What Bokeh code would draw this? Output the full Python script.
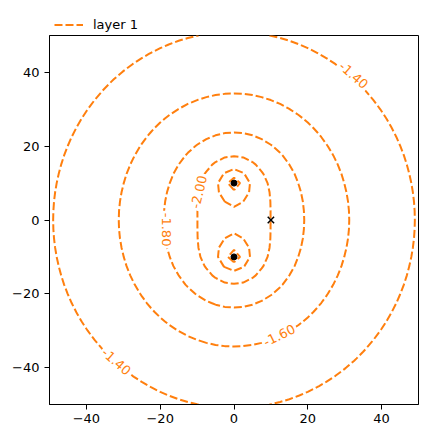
import numpy as np
from bokeh.plotting import figure
from bokeh.layouts import column
from bokeh.models import Legend, LegendItem, FixedTicker
from bokeh.core.properties import value
from bokeh.embed import file_html
from bokeh.resources import INLINE

# wells (black dots) and reference point (black x)
well_x = [0.0, 0.0]
well_y = [10.0, -10.0]
ref_x = [10.0]
ref_y = [0.0]

# head model fitted to the contour spacing
head_coef = 0.2367
head_const = -3.252
well_radius = 1.0

# contour levels
levels = [-2.4, -2.2, -2.0, -1.8, -1.6, -1.4]
legend_label = "layer 1"

# contour labels
label_text = ["-1.40", "-1.40", "-1.60", "-1.80", "-2.00"]
label_x = [32.4, -31.9, 12.3, -18.4, -9.5]
label_y = [39.2, -38.4, -31.3, -2.6, 7.6]
label_angle = [-41, -41, 26, -90, 77]

# axes
ticks = [-40, -20, 0, 20, 40]
tick_labels = ["\u221240", "\u221220", "0", "20", "40"]
win = [-50, 50, -50, 50]
ngr = 41

ORANGE = "#ff7f0e"
FONT = "DejaVu Sans"
LINE = dict(line_color=ORANGE, line_dash="8 3", line_width=2)

xg = np.linspace(win[0], win[1], ngr)
yg = np.linspace(win[2], win[3], ngr)
X, Y = np.meshgrid(xg, yg)
H = np.full_like(X, head_const)
for wx, wy in zip(well_x, well_y):
    r = np.sqrt((X - wx) ** 2 + (Y - wy) ** 2)
    H = H + head_coef * np.log(np.maximum(r, well_radius))

# ---- legend strip above the axes ----
leg = figure(width=420, height=34, x_range=(1000, 1001), y_range=(1000, 1001),
             output_backend="svg", toolbar_location=None,
             min_border_left=0, min_border_right=0, min_border_top=0, min_border_bottom=0)
leg.axis.visible = False
leg.xgrid.visible = False
leg.ygrid.visible = False
leg.outline_line_color = None
leg.background_fill_color = "white"
leg.border_fill_color = "white"
leg_cr = leg.contour(X, Y, H, levels, **LINE)
legend = Legend(items=[LegendItem(label=legend_label, renderers=[leg_cr.line_renderer])],
                location=(5, 1), orientation="horizontal",
                margin=0, padding=3, glyph_width=29, glyph_height=17, label_height=17,
                label_standoff=10, border_line_color=None, background_fill_alpha=0,
                label_text_font=FONT, label_text_font_size="13px", label_text_color="black")
leg.add_layout(legend, "center")

# ---- main axes ----
p = figure(width=420, height=396, x_range=(win[0], win[1]), y_range=(win[2], win[3]),
           output_backend="svg", toolbar_location=None,
           min_border_left=49, min_border_right=2, min_border_top=1, min_border_bottom=26)
p.background_fill_color = "white"
p.border_fill_color = "white"
p.xgrid.visible = False
p.ygrid.visible = False
p.outline_line_color = "black"
p.outline_line_width = 1
p.outline_line_alpha = 1

for ax in (p.xaxis[0], p.yaxis[0]):
    ax.ticker = FixedTicker(ticks=ticks)
    ax.major_label_overrides = {t: s for t, s in zip(ticks, tick_labels)}
    ax.major_tick_in = 0
    ax.major_tick_out = 5
    ax.minor_tick_in = 0
    ax.minor_tick_out = 0
    ax.axis_line_color = "black"
    ax.axis_line_width = 1
    ax.major_tick_line_color = "black"
    ax.major_tick_line_width = 1
    ax.major_label_text_font = FONT
    ax.major_label_text_font_size = "13px"
    ax.major_label_text_color = "black"
p.xaxis.major_label_standoff = 4
p.yaxis.major_label_standoff = 5

cr = p.contour(X, Y, H, levels, **LINE)

p.text(x=label_x, y=label_y, text=label_text, angle=label_angle, angle_units="deg",
       text_align="center", text_baseline="middle", text_color=ORANGE,
       text_font=value(FONT), text_font_size="13px",
       background_fill_color="white", padding=2)

p.scatter(x=well_x, y=well_y, marker="circle", size=6, fill_color="black", line_color="black")
p.scatter(x=ref_x, y=ref_y, marker="x", size=9, line_color="black", line_width=1.5)

layout = column(leg, p, spacing=0)
open("out.html", "w").write(file_html(layout, INLINE))
